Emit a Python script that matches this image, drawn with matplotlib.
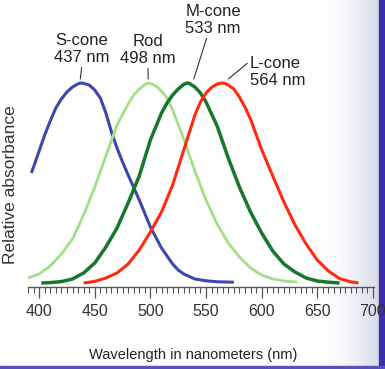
import numpy as np
import matplotlib.pyplot as plt
from matplotlib.patches import Rectangle

# wavelength [nm] and relative absorbance
s_nm = [393, 395, 400, 405, 410, 415, 420, 425, 430, 435, 437, 440, 445, 450, 455, 460, 465, 470, 475, 480,
        485, 490, 500, 510, 520, 525, 530, 540, 550, 560, 575]
s_abs = [0.55, 0.58, 0.66, 0.74, 0.81, 0.875, 0.92, 0.955, 0.98, 0.996, 1.0, 0.998, 0.99, 0.965, 0.925, 0.85,
         0.755, 0.675, 0.605, 0.54, 0.478, 0.415, 0.28, 0.175, 0.095, 0.065, 0.045, 0.02, 0.011, 0.006, 0.004]

rod_nm = [390, 400, 410, 420, 430, 440, 450, 460, 470, 480, 485, 490, 495, 498, 500, 505, 510, 515, 520, 530,
          540, 550, 560, 570, 580, 590, 600, 610, 620, 632]
rod_abs = [0.025, 0.045, 0.085, 0.145, 0.22, 0.34, 0.48, 0.635, 0.79, 0.895, 0.94, 0.97, 0.992, 1.0, 0.998,
           0.985, 0.96, 0.925, 0.865, 0.72, 0.56, 0.415, 0.295, 0.20, 0.13, 0.075, 0.04, 0.02, 0.01, 0.005]

m_nm = [402, 410, 420, 430, 440, 450, 460, 470, 480, 490, 500, 510, 515, 520, 525, 530, 533, 535, 540, 545,
        550, 560, 570, 580, 590, 600, 610, 620, 630, 640, 650, 660, 670]
m_abs = [0.0, 0.002, 0.007, 0.02, 0.05, 0.10, 0.18, 0.275, 0.40, 0.535, 0.715, 0.85, 0.90, 0.94, 0.97, 0.993,
         1.0, 0.998, 0.98, 0.95, 0.905, 0.785, 0.625, 0.48, 0.355, 0.25, 0.16, 0.095, 0.055, 0.025, 0.01, 0.004, 0.0]

l_nm = [440, 450, 460, 470, 480, 490, 500, 510, 520, 530, 540, 545, 550, 555, 560, 564, 567, 570, 575, 580,
        585, 590, 600, 610, 620, 630, 640, 650, 660, 670, 680, 687]
l_abs = [0.0, 0.008, 0.025, 0.05, 0.095, 0.165, 0.255, 0.355, 0.49, 0.665, 0.84, 0.905, 0.95, 0.978, 0.995,
         1.0, 0.998, 0.99, 0.97, 0.93, 0.88, 0.82, 0.667, 0.535, 0.405, 0.29, 0.195, 0.115, 0.06, 0.022, 0.006, 0.0]

names = ['S-cone', 'Rod', 'M-cone', 'L-cone']
peaks = [437, 498, 533, 564]
colors = ['#3d48ad', '#a3df86', '#17782b', '#ff2a12']
widths = [2.2, 2.0, 2.5, 2.2]

plt.rcParams['font.family'] = ['Liberation Sans', 'DejaVu Sans']

fig = plt.figure(figsize=(3.85, 3.69), dpi=100)

# faded right margin and border of the scanned slide
bg = fig.add_axes([0, 0, 1, 1], zorder=-1)
bg.set_xlim(0, 385)
bg.set_ylim(0, 369)
bg.axis('off')
ramp = np.linspace(0, 1, 100) ** 2
edge = np.array([0.84, 0.86, 0.92])
img = 1 - ramp[None, :, None] * (1 - edge[None, None, :])
bg.imshow(img, extent=[310, 379, 0, 369], aspect='auto')
bg.add_patch(Rectangle((379, 0), 6, 369, color='#3a30a8'))
bg.add_patch(Rectangle((0, 0), 385, 3, color='#5a50c0'))

ax = fig.add_axes([28 / 385, 82 / 369, 346 / 385, 244 / 369])
ax.patch.set_alpha(0)

for x, y, c, w in zip([s_nm, rod_nm, m_nm, l_nm], [s_abs, rod_abs, m_abs, l_abs], colors, widths):
    ax.plot(x, y, color=c, lw=w, solid_capstyle='butt', solid_joinstyle='round')

ax.set_xlim(391, 701)
ax.set_ylim(-0.02, 1.2)
ax.set_xticks(range(400, 701, 50))
ax.set_xticks(range(390, 701, 5), minor=True)
ax.set_yticks([])
for side in ['top', 'right', 'left']:
    ax.spines[side].set_visible(False)
ax.spines['bottom'].set_color('#555555')
ax.spines['bottom'].set_linewidth(1.0)
ax.tick_params(axis='x', which='major', length=8, width=0.9, color='#555555',
               labelsize=11.5, labelcolor='#333333', pad=4)
ax.tick_params(axis='x', which='minor', length=4, width=0.8, color='#555555')

# peak labels
text_pos = [(82, 320), (148, 319), (213, 349), (250, 297)]
relpos = [(0.5, 0), (0.5, 0), (0.4, 0), (0, 0.85)]
tip_shift = [0, 0, 6, 6]
for name, pk, pos, rp, dx, ha in zip(names, peaks, text_pos, relpos, tip_shift,
                                      ['center', 'center', 'center', 'left']):
    ax.annotate(f'{name}\n{pk} nm', xy=(pk + dx, 1.02), xycoords='data',
                xytext=pos, textcoords='figure pixels', ha=ha, va='center',
                fontsize=12, color='#222222', linespacing=1.1,
                arrowprops=dict(arrowstyle='-', color='#333333', lw=0.8,
                                relpos=rp, shrinkA=0, shrinkB=0))

fig.text(11 / 385, 1 - 185 / 369, 'Relative absorbance', rotation=90,
         ha='center', va='center', fontsize=12.5, color='#333333')
fig.text(193 / 385, 1 - 355 / 369, 'Wavelength in nanometers (nm)',
         ha='center', va='center', fontsize=10.5, color='#222222')

fig.savefig('out.png', dpi=100)
